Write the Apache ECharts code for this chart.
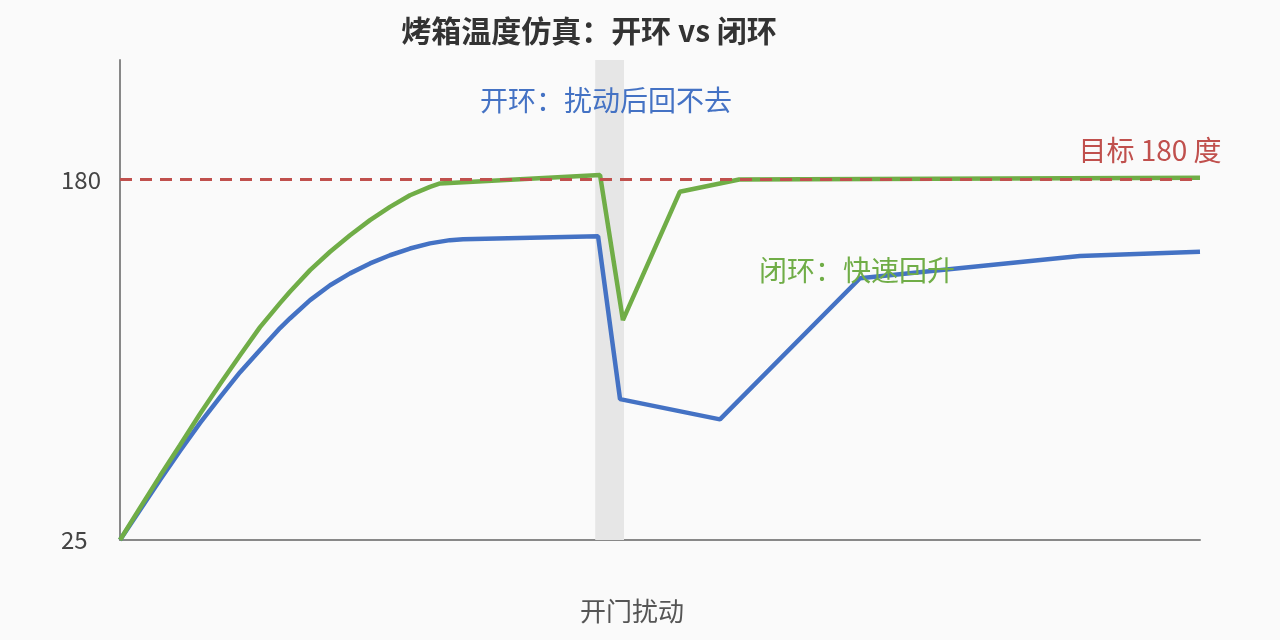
<!DOCTYPE html>
<html>
<head>
<meta charset="utf-8">
<script src="https://cdn.jsdelivr.net/npm/echarts@6/dist/echarts.min.js"></script>
<style>
  html, body { margin: 0; padding: 0; background: #fafafa; }
  #main { width: 1280px; height: 640px; }
</style>
</head>
<body>
<div id="main"></div>
<script>
// 时间（分钟）与温度
var openTime  = [0, 1.11, 2.22, 3.33, 4.44, 5.56, 6.67, 7.78, 8.89, 9.44, 10.56, 11.67, 12.78, 13.89, 15.0, 16.11, 17.22, 18.33, 19.06, 26.56, 27.78, 33.33, 41.11, 53.33, 60];
var openTemp  = [25, 37.9, 50.8, 63.3, 75.3, 86.5, 97.2, 106.7, 116.2, 120.3, 128.2, 134.6, 139.7, 144.0, 147.5, 150.4, 152.6, 154.0, 154.4, 155.7, 85.6, 76.9, 137.6, 147.2, 149.0];
var closeTime = [0, 1.11, 2.22, 3.33, 4.44, 5.56, 6.67, 7.78, 8.89, 9.44, 10.56, 11.67, 12.78, 13.89, 15.0, 16.11, 17.22, 17.78, 26.67, 27.94, 31.1, 34.4, 60];
var closeTemp = [25, 38.8, 52.5, 65.8, 79.2, 92.1, 104.5, 116.6, 126.9, 131.8, 141.1, 149.0, 156.1, 162.6, 168.3, 173.3, 176.9, 178.4, 182.0, 119.6, 174.8, 180.1, 180.8];
var target = 180;
var doorOpen = [26.4, 28.0];
var yTicks = [25, 180];

function pairs(xs, ys) {
	var out = [];
	for (var i = 0; i < xs.length; i++) {
		out.push([xs[i], ys[i]]);
	}
	return out;
}

var font = '"Noto Sans CJK SC", "Noto Sans", sans-serif';
var myChart = echarts.init(document.getElementById('main'));

var option = {
	backgroundColor: '#fafafa',
	animation: false,
	grid: { left: 120, right: 80, top: 60, bottom: 100 },
	xAxis: {
		type: 'value',
		min: 0,
		max: 60,
		axisLine: { show: true, lineStyle: { color: '#888', width: 2 } },
		axisTick: { show: false },
		axisLabel: { show: false },
		splitLine: { show: false }
	},
	yAxis: {
		type: 'value',
		min: 25,
		max: 231.5,
		interval: 155,
		axisLine: { show: true, lineStyle: { color: '#888', width: 2 } },
		axisTick: { show: false },
		splitLine: { show: false },
		axisLabel: {
			align: 'left',
			margin: 59,
			fontSize: 24,
			color: '#444',
			fontFamily: font,
			formatter: function (v) {
				return yTicks.indexOf(v) >= 0 ? String(v) : '';
			}
		}
	},
	graphic: [
		{ type: 'text', x: 589, y: 31, z: 100,
		  style: { text: '烤箱温度仿真：开环 vs 闭环', fontSize: 30, fontWeight: 'bold', fill: '#333', fontFamily: font, textAlign: 'center', textVerticalAlign: 'middle' } },
		{ type: 'text', x: 606, y: 100, z: 100,
		  style: { text: '开环：扰动后回不去', fontSize: 28, fill: '#4472C4', fontFamily: font, textAlign: 'center', textVerticalAlign: 'middle' } },
		{ type: 'text', x: 1150, y: 150, z: 100,
		  style: { text: '目标 180 度', fontSize: 28, fill: '#C0504D', fontFamily: font, textAlign: 'center', textVerticalAlign: 'middle' } },
		{ type: 'text', x: 857, y: 270, z: 100,
		  style: { text: '闭环：快速回升', fontSize: 28, fill: '#70AD47', fontFamily: font, textAlign: 'center', textVerticalAlign: 'middle' } },
		{ type: 'text', x: 632, y: 611, z: 100,
		  style: { text: '开门扰动', fontSize: 26, fill: '#555', fontFamily: font, textAlign: 'center', textVerticalAlign: 'middle' } }
	],
	series: [
		{
			name: '开环',
			type: 'line',
			data: pairs(openTime, openTemp),
			showSymbol: false,
			lineStyle: { color: '#4472C4', width: 4.5 },
			z: 3,
			markArea: {
				silent: true,
				itemStyle: { color: '#e6e6e6' },
				data: [[{ xAxis: doorOpen[0] }, { xAxis: doorOpen[1] }]]
			}
		},
		{
			name: '目标',
			type: 'line',
			data: [],
			markLine: {
				silent: true,
				symbol: 'none',
				label: { show: false },
				lineStyle: { color: '#C0504D', width: 3, type: [12, 8] },
				data: [{ yAxis: target }]
			},
			z: 2
		},
		{
			name: '闭环',
			type: 'line',
			data: pairs(closeTime, closeTemp),
			showSymbol: false,
			lineStyle: { color: '#70AD47', width: 4.5 },
			z: 4
		}
	]
};
myChart.setOption(option);
</script>
</body>
</html>
